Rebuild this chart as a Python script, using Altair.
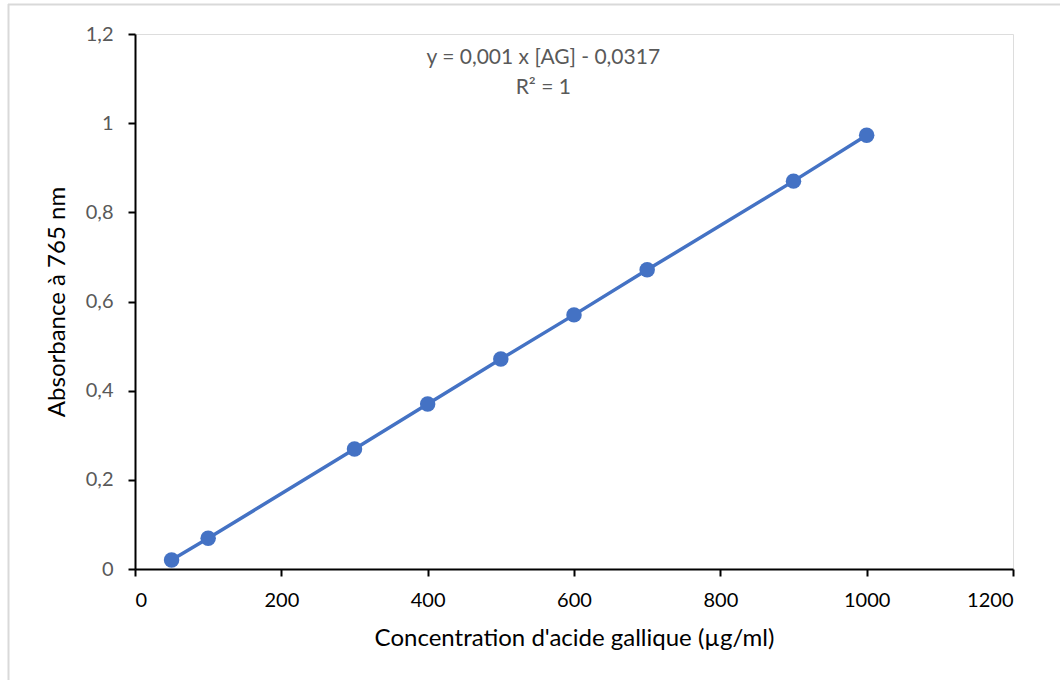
import altair as alt
import pandas as pd

concentration = [50, 100, 300, 400, 500, 600, 700, 900, 1000]
absorbance = [0.020, 0.069, 0.269, 0.370, 0.471, 0.570, 0.671, 0.870, 0.973]

eq_lines = ["y = 0,001 x [AG] - 0,0317", "R² = 1"]
eq_x = [558, 558]
eq_y = [1.146, 1.079]

df = pd.DataFrame({"x": concentration, "y": absorbance})
eq = pd.DataFrame({"t": eq_lines, "x": eq_x, "y": eq_y})

FONT = "Lato"
BLUE = "#4472C4"

xs = alt.Scale(domain=[0, 1200], nice=False, zero=True)
ys = alt.Scale(domain=[0, 1.2], nice=False)

xax = alt.Axis(values=[0, 200, 400, 600, 800, 1000, 1200], grid=False,
               title="Concentration d'acide gallique (µg/ml)", format="d",
               labelFont=FONT, labelFontSize=20, labelColor="#000000",
               titleFont=FONT, titleFontSize=24, titleFontWeight="normal", titleColor="#000000",
               domainColor="#000000", domainWidth=2, tickColor="#000000", tickWidth=2, tickSize=7,
               labelPadding=14, titlePadding=16)
yax = alt.Axis(values=[0, 0.2, 0.4, 0.6, 0.8, 1.0, 1.2], grid=False,
               title="Absorbance à 765 nm",
               labelExpr="replace(format(datum.value, '~g'), '.', ',')",
               labelFont=FONT, labelFontSize=20, labelColor="#595959",
               titleFont=FONT, titleFontSize=24, titleFontWeight="normal", titleColor="#000000",
               domainColor="#000000", domainWidth=2, tickColor="#000000", tickWidth=2, tickSize=7,
               labelPadding=15, titlePadding=16)

base = alt.Chart(df)
line = base.mark_line(color=BLUE, strokeWidth=3.5).encode(
    x=alt.X("x:Q", scale=xs, axis=xax),
    y=alt.Y("y:Q", scale=ys, axis=yax),
)
pts = base.mark_point(filled=True, color=BLUE, opacity=1, size=240).encode(
    x=alt.X("x:Q", scale=xs), y=alt.Y("y:Q", scale=ys)
)
txt = alt.Chart(eq).mark_text(font=FONT, fontSize=21, color="#595959").encode(
    x=alt.X("x:Q", scale=xs), y=alt.Y("y:Q", scale=ys), text="t:N"
)

border_df = pd.DataFrame({"k": [0]})
top_border = alt.Chart(border_df).mark_rule(color="#d9d9d9", strokeWidth=2).encode(
    x=alt.value(-127), x2=alt.value(925), y=alt.value(-29.5)
)
left_border = alt.Chart(border_df).mark_rule(color="#d9d9d9", strokeWidth=2).encode(
    x=alt.value(-126.5), y=alt.value(-30), y2=alt.value(646)
)

chart = alt.layer(top_border, left_border, line, pts, txt).properties(
    width=878, height=535,
    padding={"left": 135, "top": 34, "right": 47, "bottom": 111},
    autosize=alt.AutoSizeParams(type="none"),
).configure_view(stroke=None).configure(background="white")

chart.save("out.html", embed_options={"renderer": "svg", "actions": False})
